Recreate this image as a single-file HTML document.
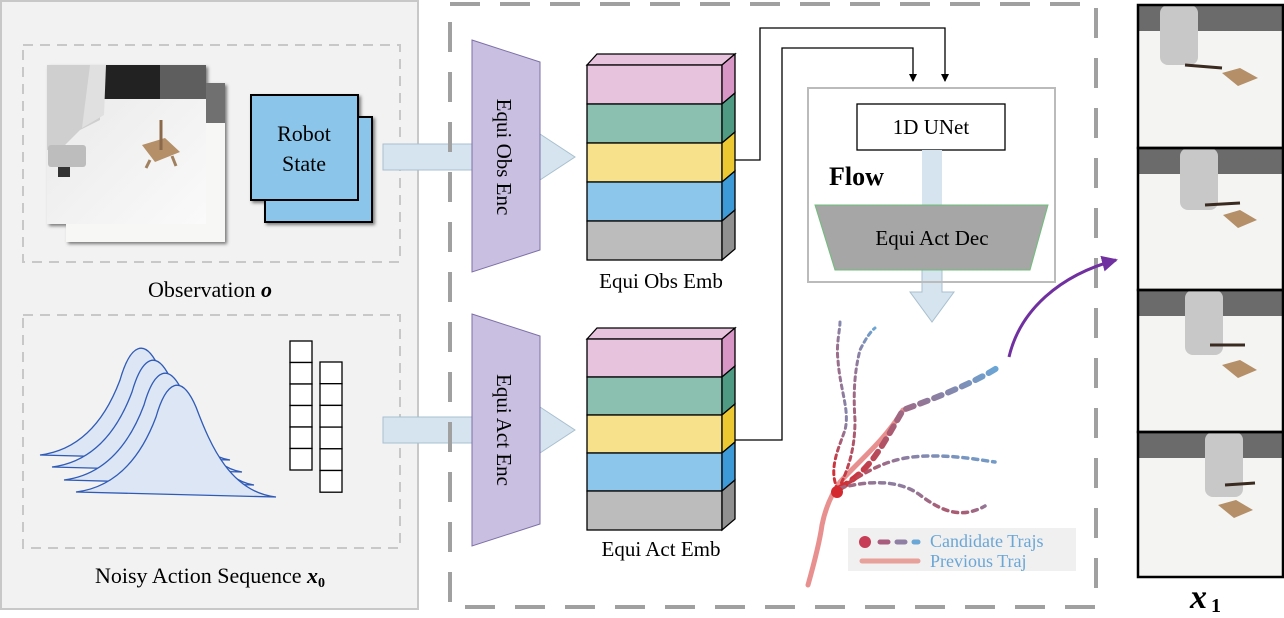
<!DOCTYPE html>
<html><head><meta charset="utf-8"><style>
html,body{margin:0;padding:0;background:#fff;}
svg{display:block;font-family:"Liberation Serif",serif;}
</style></head><body>
<svg width="1284" height="618" viewBox="0 0 1284 618" xmlns="http://www.w3.org/2000/svg">
<defs>
<marker id="ah" markerWidth="8" markerHeight="8" refX="7" refY="4" orient="auto" markerUnits="userSpaceOnUse"><path d="M0,0 L8,4 L0,8 z" fill="#000"/></marker>
<marker id="ahp" markerWidth="16" markerHeight="16" refX="14" refY="8" orient="auto" markerUnits="userSpaceOnUse"><path d="M0,0 L16,8 L0,16 z" fill="#7030a0"/></marker>
<linearGradient id="img" x1="0" y1="0" x2="1" y2="1"><stop offset="0" stop-color="#e8e8e8"/><stop offset="1" stop-color="#fafafa"/></linearGradient>
<linearGradient id="tr" x1="0" y1="1" x2="1" y2="0"><stop offset="0" stop-color="#d42a2f"/><stop offset="1" stop-color="#6aa6d6"/></linearGradient>
<filter id="sh"><feDropShadow dx="2" dy="2" stdDeviation="1.5" flood-opacity="0.5"/></filter>
</defs>

<rect x="1" y="1" width="417" height="608" fill="#f2f2f2" stroke="#c8c8c8" stroke-width="2"/>
<rect x="23" y="45" width="377" height="217" fill="none" stroke="#c8c8c8" stroke-width="2" stroke-dasharray="10,7"/>
<rect x="23" y="315" width="377" height="233" fill="none" stroke="#c8c8c8" stroke-width="2" stroke-dasharray="10,7"/>

<g filter="url(#sh)">
<rect x="66" y="83" width="159" height="159" fill="#f7f7f5"/>
<rect x="206" y="83" width="19" height="40" fill="#707070"/>
<rect x="47" y="65" width="159" height="159" fill="url(#img)"/>
</g>
<rect x="47" y="65" width="159" height="34" fill="#5e5e5e"/>
<rect x="100" y="65" width="60" height="34" fill="#222"/>
<path d="M47,65 L100,65 L100,120 L80,130 L60,150 L47,150 z" fill="#cfcfcf"/>
<path d="M90,65 L106,65 L104,115 L82,128 z" fill="#e0e0e0"/>
<rect x="48" y="145" width="38" height="22" rx="3" fill="#bdbdbd"/>
<rect x="58" y="167" width="12" height="10" fill="#333"/>
<path d="M142,145 L165,138 L180,152 L155,162 z" fill="#b48f68"/>
<line x1="161" y1="120" x2="161" y2="150" stroke="#8a6a4a" stroke-width="3"/>
<line x1="150" y1="160" x2="146" y2="168" stroke="#a0805e" stroke-width="3"/>
<line x1="172" y1="156" x2="176" y2="166" stroke="#a0805e" stroke-width="3"/>

<g filter="url(#sh)">
<rect x="265" y="117" width="107" height="105" fill="#8bc6ea" stroke="#000" stroke-width="2"/>
<rect x="251" y="95" width="107" height="105" fill="#8bc6ea" stroke="#000" stroke-width="2"/>
</g>
<text x="304" y="141" font-size="22" text-anchor="middle">Robot</text>
<text x="304" y="171" font-size="22" text-anchor="middle">State</text>
<text x="210" y="297" font-size="22" text-anchor="middle">Observation <tspan font-weight="bold" font-style="italic">o</tspan></text>

<g fill="#dde6f4" stroke="#2f5bb7" stroke-width="1.3">
<path d="M40,455 C80,450 105,420 120,380 C130,345 145,335 160,370 C175,410 195,455 230,460 z"/>
<path d="M52,467 C92,462 117,432 132,392 C142,357 157,347 172,382 C187,422 207,467 242,472 z"/>
<path d="M64,480 C104,475 129,445 144,405 C154,370 169,360 184,395 C199,435 219,480 254,485 z"/>
<path d="M76,492 C116,487 141,457 156,417 C166,382 181,372 196,407 C211,447 231,492 276,497 z"/>
</g>
<g fill="#fff" stroke="#000" stroke-width="1.3">
<rect x="290" y="341" width="22" height="21.5"/><rect x="290" y="362.5" width="22" height="21.5"/><rect x="290" y="384" width="22" height="21.5"/><rect x="290" y="405.5" width="22" height="21.5"/><rect x="290" y="427" width="22" height="21.5"/><rect x="290" y="448.5" width="22" height="21.5"/>
<rect x="320" y="362" width="22" height="21.7"/><rect x="320" y="383.7" width="22" height="21.7"/><rect x="320" y="405.4" width="22" height="21.7"/><rect x="320" y="427.1" width="22" height="21.7"/><rect x="320" y="448.8" width="22" height="21.7"/><rect x="320" y="470.5" width="22" height="21.7"/>
</g>
<text x="210" y="583" font-size="22" text-anchor="middle">Noisy Action Sequence <tspan font-weight="bold" font-style="italic">x</tspan><tspan font-weight="bold" font-size="14" dy="4">0</tspan></text>

<g fill="#d5e4ef" stroke="#a9bfcf" stroke-width="1">
<path d="M383,144 L540,144 L540,134 L575,157 L540,180 L540,170 L383,170 z"/>
<path d="M383,417 L540,417 L540,407 L575,430 L540,453 L540,443 L383,443 z"/>
<path d="M922,270 L942,270 L942,292 L954,292 L932,322 L910,292 L922,292 z"/>
</g>

<rect x="450" y="4" width="646" height="603" fill="none" stroke="#a0a0a0" stroke-width="4" stroke-dasharray="30,20"/>

<path d="M472,40 L540,62 L540,250 L472,272 z" fill="#c9bfe0" stroke="#7d6fa8" stroke-width="1"/>
<path d="M472,314 L540,336 L540,524 L472,546 z" fill="#c9bfe0" stroke="#7d6fa8" stroke-width="1"/>
<text transform="translate(497,157) rotate(90)" font-size="21" text-anchor="middle">Equi Obs Enc</text>
<text transform="translate(497,430) rotate(90)" font-size="21" text-anchor="middle">Equi Act Enc</text>

<g stroke="#000" stroke-width="1.3">
<path d="M587,65 L597,54 L735,54 L722,65 z" fill="#e7c3de"/>
<rect x="587" y="65" width="135" height="39" fill="#e7c3de"/><path d="M722,65 L735,54 L735,93 L722,104z" fill="#d896c6"/>
<rect x="587" y="104" width="135" height="39" fill="#8bbfb0"/><path d="M722,104 L735,93 L735,132 L722,143z" fill="#4f9a83"/>
<rect x="587" y="143" width="135" height="39" fill="#f7e28b"/><path d="M722,143 L735,132 L735,171 L722,182z" fill="#ecc933"/>
<rect x="587" y="182" width="135" height="39" fill="#8cc7eb"/><path d="M722,182 L735,171 L735,210 L722,221z" fill="#3e9ad6"/>
<rect x="587" y="221" width="135" height="39" fill="#bcbcbc"/><path d="M722,221 L735,210 L735,249 L722,260z" fill="#909090"/>

<path d="M587,339 L597,328 L735,328 L722,339 z" fill="#e7c3de"/>
<rect x="587" y="339" width="135" height="38" fill="#e7c3de"/><path d="M722,339 L735,328 L735,366 L722,377z" fill="#d896c6"/>
<rect x="587" y="377" width="135" height="38" fill="#8bbfb0"/><path d="M722,377 L735,366 L735,404 L722,415z" fill="#4f9a83"/>
<rect x="587" y="415" width="135" height="38" fill="#f7e28b"/><path d="M722,415 L735,404 L735,442 L722,453z" fill="#ecc933"/>
<rect x="587" y="453" width="135" height="38" fill="#8cc7eb"/><path d="M722,453 L735,442 L735,480 L722,491z" fill="#3e9ad6"/>
<rect x="587" y="491" width="135" height="39" fill="#bcbcbc"/><path d="M722,491 L735,480 L735,519 L722,530z" fill="#909090"/>
</g>
<text x="661" y="288" font-size="21" text-anchor="middle">Equi Obs Emb</text>
<text x="661" y="556" font-size="21" text-anchor="middle">Equi Act Emb</text>

<path d="M735,160 L760,160 L760,28 L945,28 L945,81" fill="none" stroke="#000" stroke-width="1.3" marker-end="url(#ah)"/>
<path d="M735,440 L782,440 L782,48 L913,48 L913,81" fill="none" stroke="#000" stroke-width="1.3" marker-end="url(#ah)"/>

<rect x="808" y="88" width="247" height="194" fill="none" stroke="#bbbbbb" stroke-width="2"/>
<rect x="857" y="104" width="148" height="46" fill="#fff" stroke="#000" stroke-width="1.3"/>
<text x="931" y="134" font-size="21" text-anchor="middle">1D UNet</text>
<text x="829" y="185" font-size="26" font-weight="bold">Flow</text>
<path d="M922,150 L942,150 L942,205 L922,205 z" fill="#d5e4ef"/>
<path d="M815,205 L1048,205 L1030,270 L835,270 z" fill="#a6a6a6" stroke="#6fbf7a" stroke-width="1"/>
<text x="932" y="245" font-size="21" text-anchor="middle">Equi Act Dec</text>

<path d="M808,585 C815,560 820,540 822,525 C826,505 833,492 840,482 C860,460 885,440 903,410" fill="none" stroke="#e8908f" stroke-width="5" stroke-linecap="round"/>
<g fill="none" stroke="url(#tr)" stroke-linecap="round">
<path d="M838,490 C828,470 838,450 845,430 C850,410 840,390 838,360 C836,345 840,330 840,322" stroke-width="3" stroke-dasharray="4,4"/>
<path d="M838,490 C848,470 855,450 855,420 C853,390 855,370 860,350 C865,340 870,332 875,328" stroke-width="3" stroke-dasharray="4,4"/>
<path d="M840,488 C870,470 880,450 903,410 C930,400 970,385 997,368" stroke-width="6" stroke-dasharray="8,7"/>
<path d="M840,488 C870,470 890,455 935,456 C960,456 980,460 995,462" stroke-width="3.5" stroke-dasharray="5,5"/>
<path d="M840,488 C870,480 900,480 920,495 C940,510 960,520 985,506" stroke-width="3.5" stroke-dasharray="5,5"/>
</g>
<circle cx="837" cy="492" r="6" fill="#d42a2f"/>
<rect x="848" y="528" width="228" height="43" fill="#f0f0f0"/>
<circle cx="865" cy="542" r="6" fill="#c73d55"/>
<path d="M880,542 L888,542" stroke="#a95d7e" stroke-width="5" stroke-linecap="round"/>
<path d="M897,542 L905,542" stroke="#8f7fa5" stroke-width="5" stroke-linecap="round"/>
<path d="M914,542 L918,542" stroke="#6aa6d6" stroke-width="5" stroke-linecap="round"/>
<path d="M862,561 L918,561" stroke="#e8a09a" stroke-width="5" stroke-linecap="round"/>
<text x="930" y="547" font-size="18" fill="#6aa6d6">Candidate Trajs</text>
<text x="930" y="567" font-size="18" fill="#6aa6d6">Previous Traj</text>

<path d="M1009,357 C1020,310 1060,275 1116,260" fill="none" stroke="#7030a0" stroke-width="3" marker-end="url(#ahp)"/>

<g>
<rect x="1137" y="5" width="146" height="572" fill="#f4f4f2"/>
<g fill="#6b6b6b">
<rect x="1137" y="5" width="146" height="26"/><rect x="1137" y="148" width="146" height="26"/><rect x="1137" y="290" width="146" height="26"/><rect x="1137" y="432" width="146" height="26"/>
</g>
<g fill="#c8c8c8">
<rect x="1160" y="5" width="38" height="60" rx="8"/><rect x="1180" y="148" width="38" height="62" rx="8"/><rect x="1185" y="290" width="38" height="65" rx="8"/><rect x="1205" y="432" width="38" height="65" rx="8"/>
</g>
<g stroke="#3a2a20" stroke-width="3"><line x1="1185" y1="65" x2="1222" y2="68"/><line x1="1205" y1="205" x2="1240" y2="203"/><line x1="1210" y1="345" x2="1245" y2="345"/><line x1="1225" y1="485" x2="1255" y2="483"/></g>
<g fill="#b48f68"><path d="M1222,73 L1240,68 L1258,78 L1238,86z"/><path d="M1223,215 L1240,210 L1257,220 L1238,228z"/><path d="M1222,365 L1240,360 L1257,370 L1238,378z"/><path d="M1218,505 L1236,500 L1253,510 L1234,518z"/></g>
<g fill="none" stroke="#000" stroke-width="2.5">
<rect x="1138" y="5" width="145" height="143"/><rect x="1138" y="148" width="145" height="142"/><rect x="1138" y="290" width="145" height="142"/><rect x="1138" y="432" width="145" height="145"/>
</g>
</g>
<text x="1190" y="608" font-size="34" font-weight="bold" font-style="italic">x</text>
<text x="1211" y="612" font-size="20" font-weight="bold">1</text>
</svg>
</body></html>
